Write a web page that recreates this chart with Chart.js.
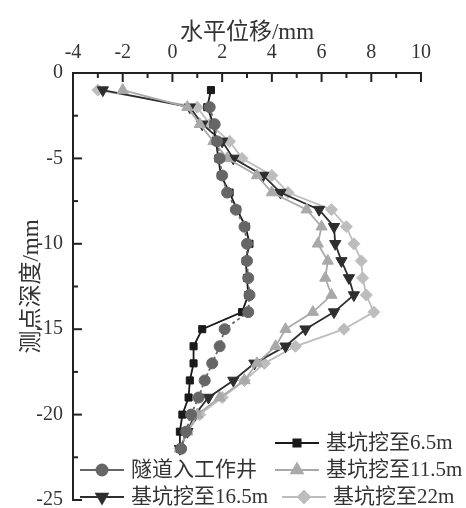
<!DOCTYPE html>
<html>
<head>
<meta charset="utf-8">
<script src="https://cdn.jsdelivr.net/npm/chart.js@4/dist/chart.umd.min.js"></script>
<style>
  html, body { margin: 0; padding: 0; background: #fff; }
  #wrap { width: 466px; height: 508px; }
</style>
</head>
<body>
<div id="wrap"><canvas id="grafico" width="466" height="508"></canvas></div>
<script>
// profundidade dos pontos (mm) e deslocamentos (mm)
const depths = [-1, -2, -3, -4, -5, -6, -7, -8, -9, -10, -11, -12, -13, -14, -15, -16, -17, -18, -19, -20, -21, -22];
const tunnel = [null, 1.5, 1.7, 1.8, 1.9, 2.0, 2.2, 2.55, 2.9, 3.0, 3.0, 3.05, 3.1, 3.05, 2.1, 1.9, 1.6, 1.3, 1.05, 0.75, 0.55, 0.35];
const dig65 = [1.55, 1.4, 1.65, 1.75, 1.85, 1.95, 2.3, 2.6, 2.95, 3.1, 2.95, 3.0, 3.05, 2.8, 1.2, 0.85, 0.85, 0.7, 0.65, 0.4, 0.3, 0.3];
const dig115 = [-2.0, 0.6, 1.1, 1.65, 2.2, 3.4, 4.0, 5.4, 6.0, 5.85, 6.25, 6.15, 6.4, 5.65, 4.55, 4.15, 3.4, 2.9, 1.9, 1.0, 0.6, 0.3];
const dig165 = [-2.8, 0.7, 1.2, 2.0, 2.45, 3.65, 4.35, 5.9, 6.5, 6.55, 6.8, 7.1, 7.3, 6.5, 5.35, 4.55, 3.3, 2.45, 1.45, 0.9, 0.6, 0.3];
const dig22 = [-3.0, 1.0, 1.5, 2.3, 2.8, 4.0, 4.65, 6.4, 7.0, 7.3, 7.6, 7.65, 7.8, 8.1, 6.9, 4.95, 3.7, 2.9, 2.0, 1.1, 0.6, 0.3];

const seriesNames = ['隧道入工作井', '基坑挖至6.5m', '基坑挖至11.5m', '基坑挖至16.5m', '基坑挖至22m'];
const xTicks = [-4, -2, 0, 2, 4, 6, 8, 10];
const yTicks = [0, -5, -10, -15, -20, -25];

function pontos(valores) {
    const out = [];
    valores.forEach((v, i) => {
        if (v !== null) out.push({ x: v, y: depths[i] });
    });
    return out;
}

const fonteSerif = '"Liberation Serif", "DejaVu Serif", "Noto Sans CJK SC", serif';

// legenda desenhada à mão (posição livre dentro da área)
const legendaPos = [
    { ds: 1, x: 275, y: 443 },
    { ds: 0, x: 80, y: 470 },
    { ds: 2, x: 275, y: 470 },
    { ds: 3, x: 80, y: 497 },
    { ds: 4, x: 282, y: 497 }
];

const legendaPlugin = {
    id: 'legendaManual',
    afterDraw(chart) {
        const ctx = chart.ctx;
        ctx.save();
        legendaPos.forEach(item => {
            const ds = chart.data.datasets[item.ds];
            ctx.strokeStyle = ds.borderColor;
            ctx.lineWidth = 2;
            ctx.setLineDash([]);
            ctx.beginPath();
            ctx.moveTo(item.x, item.y);
            ctx.lineTo(item.x + 44, item.y);
            ctx.stroke();
            ctx.fillStyle = ds.pointBackgroundColor;
            Chart.helpers.drawPoint(ctx, {
                pointStyle: ds.pointStyle,
                radius: ds.pointRadius,
                rotation: ds.pointRotation || 0,
                borderWidth: 1
            }, item.x + 22, item.y);
            ctx.fillStyle = '#333';
            ctx.font = '21px ' + fonteSerif;
            ctx.textBaseline = 'middle';
            ctx.textAlign = 'left';
            ctx.fillText(ds.label, item.x + 51, item.y);
        });
        ctx.restore();
    }
};

// marcas dos eixos voltadas para dentro
const marcasPlugin = {
    id: 'marcasInternas',
    afterDraw(chart) {
        const ctx = chart.ctx;
        const xs = chart.scales.x, ys = chart.scales.y;
        const area = chart.chartArea;
        ctx.save();
        ctx.strokeStyle = '#222';
        ctx.lineWidth = 2;
        for (let v = -4; v <= 10; v += 1) {
            const px = xs.getPixelForValue(v);
            const len = v % 2 === 0 ? 9 : 5;
            ctx.beginPath();
            ctx.moveTo(px, area.top);
            ctx.lineTo(px, area.top + len);
            ctx.stroke();
        }
        for (let v = 0; v >= -25; v -= 2.5) {
            const py = ys.getPixelForValue(v);
            const len = v % 5 === 0 ? 9 : 5;
            ctx.beginPath();
            ctx.moveTo(area.left, py);
            ctx.lineTo(area.left + len, py);
            ctx.stroke();
        }
        ctx.restore();
    }
};

function serie(label, valores, cor, estilo, raio, rot, tracejado) {
    return {
        label: label,
        data: pontos(valores),
        borderColor: cor,
        backgroundColor: cor,
        pointBackgroundColor: cor,
        pointBorderColor: cor,
        pointStyle: estilo,
        pointRadius: raio,
        pointRotation: rot,
        pointBorderWidth: 1,
        borderWidth: 1.8,
        borderDash: tracejado,
        showLine: true,
        tension: 0
    };
}

const ctx = document.getElementById('grafico').getContext('2d');
new Chart(ctx, {
    type: 'scatter',
    data: {
        datasets: [
            serie(seriesNames[0], tunnel, '#666666', 'circle', 5.5, 0, [3, 3]),
            serie(seriesNames[1], dig65, '#1a1a1a', 'rect', 5, 0, []),
            serie(seriesNames[2], dig115, '#a9a9a9', 'triangle', 6.5, 0, []),
            serie(seriesNames[3], dig165, '#2e2e2e', 'triangle', 6.5, 180, []),
            serie(seriesNames[4], dig22, '#bdbdbd', 'rectRot', 6, 0, [])
        ]
    },
    options: {
        responsive: false,
        animation: false,
        layout: { padding: { top: 0, left: 0, right: 45, bottom: 8 } },
        plugins: {
            legend: { display: false },
            tooltip: { enabled: false }
        },
        scales: {
            x: {
                type: 'linear',
                position: 'top',
                min: -4,
                max: 10,
                afterBuildTicks: axis => { axis.ticks = xTicks.map(v => ({ value: v })); },
                afterFit: axis => { axis.height = 73; },
                ticks: {
                    padding: 8,
                    color: '#333',
                    font: { family: fonteSerif, size: 20 }
                },
                grid: { display: false, drawTicks: false },
                border: { display: true, color: '#222', width: 2 },
                title: {
                    display: true,
                    text: '水平位移/mm',
                    color: '#333',
                    padding: { top: 19, bottom: 0 },
                    font: { family: fonteSerif, size: 23 }
                }
            },
            y: {
                type: 'linear',
                min: -25,
                max: 0,
                afterBuildTicks: axis => { axis.ticks = yTicks.map(v => ({ value: v })); },
                afterFit: axis => {
                    axis.width = 73;
                    axis.paddingBottom = 0;
                    axis.paddingTop = 0;
                },
                ticks: {
                    padding: 10,
                    color: '#333',
                    font: { family: fonteSerif, size: 20 }
                },
                grid: { display: false, drawTicks: false },
                border: { display: true, color: '#222', width: 2 },
                title: {
                    display: true,
                    text: '测点深度/mm',
                    color: '#333',
                    padding: { top: 18, bottom: 0 },
                    font: { family: fonteSerif, size: 23 }
                }
            }
        }
    },
    plugins: [marcasPlugin, legendaPlugin]
});
</script>
</body>
</html>
